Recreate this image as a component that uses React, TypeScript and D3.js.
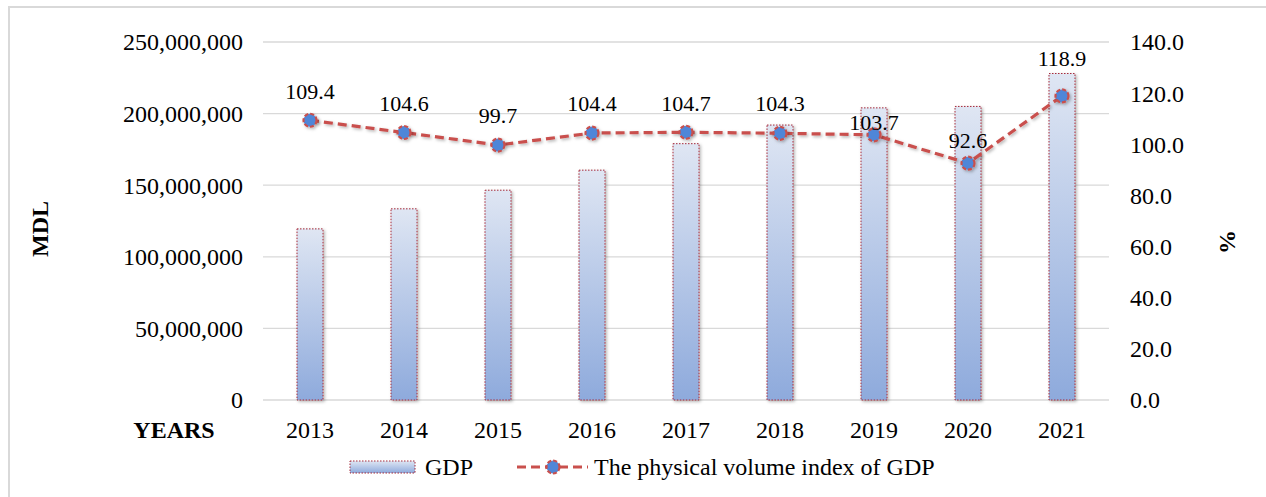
import React from 'react';
import * as d3 from 'd3';

const years = ['2013', '2014', '2015', '2016', '2017', '2018', '2019', '2020', '2021'];
const gdpValues = [119500000, 133500000, 146500000, 160500000, 179000000, 192000000, 204000000, 205000000, 228000000];
const indexValues = [109.4, 104.6, 99.7, 104.4, 104.7, 104.3, 103.7, 92.6, 118.9];
const leftTicks = [0, 50000000, 100000000, 150000000, 200000000, 250000000];
const rightTicks = [0, 20, 40, 60, 80, 100, 120, 140];
const seriesNames = ['GDP', 'The physical volume index of GDP'];
// vertical distance of each data label above its marker (px)
const labelLift = [29, 29, 30, 30, 29, 30, 13, 23, 38];

const W = 1266;
const H = 497;
const FONT = '"Liberation Serif", "Times New Roman", serif';

export default function App() {
  const x = d3.scaleBand<string>().domain(years).range([263, 1109]).paddingInner(0).paddingOuter(0);
  const yL = d3.scaleLinear().domain([0, 250000000]).range([400, 42]);
  const yR = d3.scaleLinear().domain([0, 140]).range([400, 42]);
  const barW = 26;
  const fmtL = d3.format(',');
  const fmtR = d3.format('.1f');
  const fs = 24;

  const pts: [number, number][] = years.map((yr, i) => [x(yr)! + x.bandwidth() / 2, yR(indexValues[i])]);
  const line = d3.line()(pts) || '';

  return (
    <svg width={W} height={H} style={{ position: 'absolute', left: 0, top: 0, background: '#fff' }} fontFamily={FONT}>
      <defs>
        <linearGradient id="barGrad" x1="0" y1="0" x2="0" y2="1">
          <stop offset="0" stopColor="#dfe6f3" />
          <stop offset="1" stopColor="#8eaadc" />
        </linearGradient>
        <filter id="shadow" x="-50%" y="-50%" width="200%" height="200%">
          <feDropShadow dx="1.5" dy="1.5" stdDeviation="1.5" floodColor="#000" floodOpacity="0.3" />
        </filter>
      </defs>
      <rect x={0} y={0} width={W} height={H} fill="#fff" />
      <path d={`M9,${H + 5} V7 H${W + 5}`} fill="none" stroke="#d9d9d9" strokeWidth={2} />

      {leftTicks.map((t) => (
        <line key={'g' + t} x1={263} x2={1109} y1={yL(t)} y2={yL(t)} stroke="#d9d9d9" strokeWidth={1.3} />
      ))}

      {leftTicks.map((t) => (
        <text key={'l' + t} x={243} y={yL(t)} dy="0.35em" textAnchor="end" fontSize={fs} fill="#000">
          {fmtL(t)}
        </text>
      ))}
      {rightTicks.map((t) => (
        <text key={'r' + t} x={1130} y={yR(t)} dy="0.35em" textAnchor="start" fontSize={fs} fill="#000">
          {fmtR(t)}
        </text>
      ))}
      {years.map((yr) => (
        <text key={'c' + yr} x={x(yr)! + x.bandwidth() / 2} y={430} dy="0.35em" textAnchor="middle" fontSize={fs} fill="#000">
          {yr}
        </text>
      ))}
      <text x={174} y={430} dy="0.35em" textAnchor="middle" fontSize={fs} fontWeight="bold" fill="#000">YEARS</text>
      <text transform="translate(40,229) rotate(-90)" textAnchor="middle" dy="0.35em" fontSize={fs} fontWeight="bold" fill="#000">MDL</text>
      <text transform="translate(1227,242) rotate(-90)" textAnchor="middle" dy="0.35em" fontSize={fs} fontWeight="bold" fill="#000">%</text>

      {years.map((yr, i) => {
        const cx = x(yr)! + x.bandwidth() / 2;
        const top = yL(gdpValues[i]);
        return (
          <rect key={'b' + yr} x={cx - barW / 2} y={top} width={barW} height={400 - top}
            fill="url(#barGrad)" stroke="#a52a3a" strokeWidth={1} strokeDasharray="1.5,1.5" filter="url(#shadow)" />
        );
      })}

      <path d={line} fill="none" stroke="#c9504d" strokeWidth={3.2} strokeDasharray="9,5" filter="url(#shadow)" />
      {pts.map(([px, py], i) => (
        <circle key={'m' + i} cx={px} cy={py} r={6.5} fill="#4f86d8" stroke="#c9504d" strokeWidth={2.2} strokeDasharray="4,2" filter="url(#shadow)" />
      ))}
      {pts.map(([px, py], i) => (
        <text key={'d' + i} x={px} y={py - labelLift[i]} dy="0.35em" textAnchor="middle" fontSize={22} fill="#000">
          {fmtR(indexValues[i])}
        </text>
      ))}

      <rect x={350} y={461} width={65} height={12} fill="url(#barGrad)" stroke="#a52a3a" strokeWidth={1} strokeDasharray="1.5,1.5" />
      <text x={425} y={467} dy="0.35em" fontSize={fs} fill="#000">{seriesNames[0]}</text>
      <line x1={517} x2={588} y1={467} y2={467} stroke="#c9504d" strokeWidth={3.2} strokeDasharray="9,5" />
      <circle cx={553} cy={467} r={6.5} fill="#4f86d8" stroke="#c9504d" strokeWidth={2.2} strokeDasharray="4,2" />
      <text x={594} y={467} dy="0.35em" fontSize={fs} fill="#000">{seriesNames[1]}</text>
    </svg>
  );
}
